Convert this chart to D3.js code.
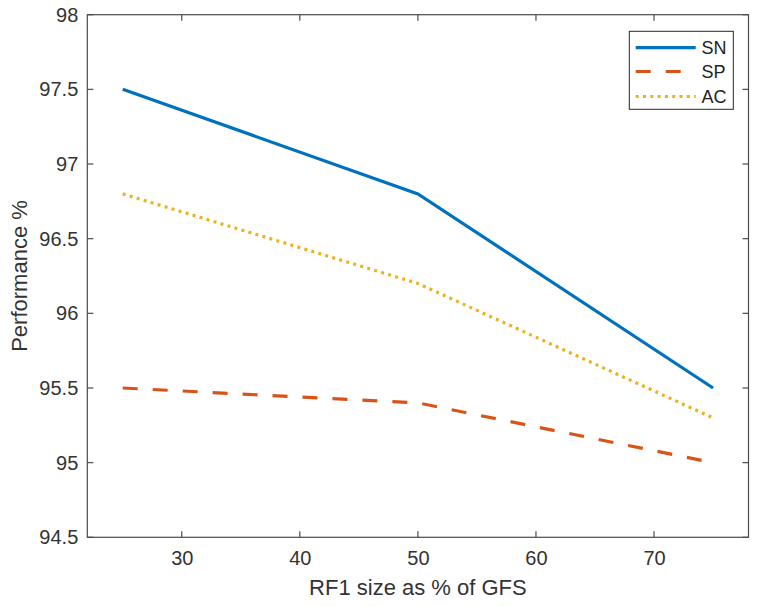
<!DOCTYPE html>
<html>
<head>
<meta charset="utf-8">
<script src="https://cdn.jsdelivr.net/npm/d3@7"></script>
<style>
  html, body { margin: 0; padding: 0; background: #fff; }
  svg { display: block; font-family: "Liberation Sans", Arial, Helvetica, sans-serif; }
</style>
</head>
<body>
<svg id="chart" width="758" height="606"></svg>
<script>
const xValues = [25, 50, 75];
const snValues = [97.5, 96.8, 95.5];
const spValues = [95.5, 95.4, 95.0];
const acValues = [96.8, 96.2, 95.3];
const seriesNames = ["SN", "SP", "AC"];
const xTicks = [30, 40, 50, 60, 70];
const yTicks = [94.5, 95, 95.5, 96, 96.5, 97, 97.5, 98];
const xLabel = "RF1 size as % of GFS";
const yLabel = "Performance %";

const W = 758, H = 606;
const L = 87.3, R = 748.5, T = 14.7, B = 537.3;
const axisColor = "#4a4a4a";
const textColor = "#333333";

const svg = d3.select("#chart");
const x = d3.scaleLinear().domain([22, 78]).range([L, R]);
const y = d3.scaleLinear().domain([94.5, 98]).range([B, T]);

// Axes box
const g = svg.append("g");
g.append("rect").attr("x", L).attr("y", T).attr("width", R - L).attr("height", B - T)
  .attr("fill", "none").attr("stroke", axisColor).attr("stroke-width", 1.2);

const tickLen = 6;
// bottom axis
const xAxis = d3.axisBottom(x).tickValues(xTicks).tickSize(0).tickPadding(14).tickFormat(d3.format("d"));
const gx = svg.append("g").attr("transform", `translate(0,${B})`).call(xAxis);
gx.select(".domain").remove();
gx.selectAll("text").attr("font-size", 20).attr("fill", textColor).attr("font-family", "Liberation Sans, Arial, sans-serif");
// left axis
const yAxis = d3.axisLeft(y).tickValues(yTicks).tickSize(0).tickPadding(9).tickFormat(d3.format("~g"));
const gy = svg.append("g").attr("transform", `translate(${L},0)`).call(yAxis);
gy.select(".domain").remove();
gy.selectAll("text").attr("font-size", 20).attr("fill", textColor).attr("font-family", "Liberation Sans, Arial, sans-serif");

// inward ticks on all four sides
const tk = svg.append("g").attr("stroke", axisColor).attr("stroke-width", 1.2);
xTicks.forEach(v => {
  tk.append("line").attr("x1", x(v)).attr("x2", x(v)).attr("y1", B).attr("y2", B - tickLen);
  tk.append("line").attr("x1", x(v)).attr("x2", x(v)).attr("y1", T).attr("y2", T + tickLen);
});
yTicks.forEach(v => {
  tk.append("line").attr("y1", y(v)).attr("y2", y(v)).attr("x1", L).attr("x2", L + tickLen);
  tk.append("line").attr("y1", y(v)).attr("y2", y(v)).attr("x1", R).attr("x2", R - tickLen);
});

// Axis labels
svg.append("text").attr("x", (L + R) / 2).attr("y", 595).attr("text-anchor", "middle")
  .attr("font-size", 22).attr("fill", textColor).text(xLabel);
svg.append("text").attr("transform", `translate(27,${(T + B) / 2}) rotate(-90)`).attr("text-anchor", "middle")
  .attr("font-size", 22).attr("fill", textColor).text(yLabel);

// Series
const styles = [
  { color: "#0072BD", dash: null, width: 3.2 },
  { color: "#D95319", dash: "15,15", width: 3.2 },
  { color: "#EDB120", dash: "3,4.3", width: 3.2 }
];
const allSeries = [snValues, spValues, acValues];
const line = d3.line().x(d => x(d[0])).y(d => y(d[1]));
allSeries.forEach((vals, i) => {
  const pts = xValues.map((xv, j) => [xv, vals[j]]);
  svg.append("path").datum(pts).attr("d", line).attr("fill", "none")
    .attr("stroke", styles[i].color).attr("stroke-width", styles[i].width)
    .attr("stroke-dasharray", styles[i].dash);
});

// Legend
const lg = svg.append("g");
lg.append("rect").attr("x", 629.3).attr("y", 31.3).attr("width", 104).attr("height", 78)
  .attr("fill", "#fff").attr("stroke", "#262626").attr("stroke-width", 1);
const rowY = [47.7, 71.5, 96.5];
seriesNames.forEach((name, i) => {
  lg.append("line").attr("x1", 635.7).attr("x2", 695.7).attr("y1", rowY[i]).attr("y2", rowY[i])
    .attr("stroke", styles[i].color).attr("stroke-width", styles[i].width)
    .attr("stroke-dasharray", styles[i].dash);
  lg.append("text").attr("x", 701.5).attr("y", rowY[i]).attr("dy", "0.36em")
    .attr("font-size", 18).attr("fill", "#222").text(name);
});
</script>
</body>
</html>
